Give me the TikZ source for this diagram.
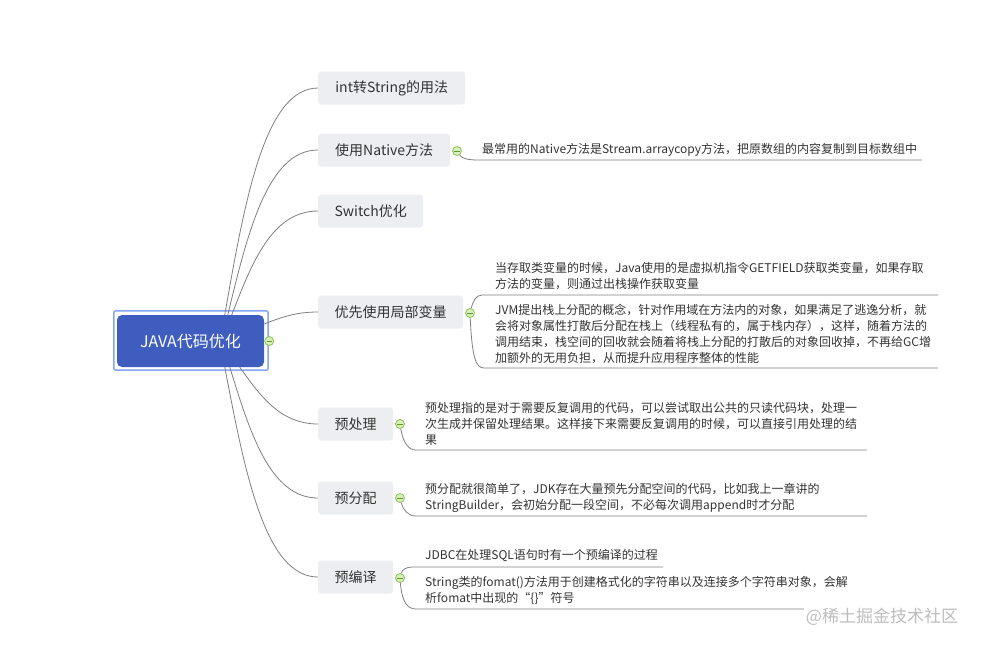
\documentclass[tikz,border=0pt]{standalone}
\usepackage{fontspec}
\setmainfont{Noto Sans CJK SC}
\definecolor{rootblue}{HTML}{3F5DBF}
\definecolor{selblue}{HTML}{86A5F8}
\definecolor{childgray}{HTML}{EDEEF2}
\definecolor{linegray}{HTML}{7F7F7F}
\definecolor{txt}{HTML}{333333}
\definecolor{cfill}{HTML}{D8EEBB}
\definecolor{cdraw}{HTML}{8DC153}
\definecolor{cminus}{HTML}{5A9A28}
\definecolor{wmgray}{HTML}{BDBDBD}
\begin{document}
\begin{tikzpicture}[x=1pt,y=-1pt,
  rootbox/.style={fill=rootblue,rounded corners=5pt,minimum width=147pt,minimum height=52pt,
    text=white,font=\fontsize{16}{18}\selectfont,inner sep=0pt},
  selframe/.style={draw=selblue,line width=1.5pt,rounded corners=2pt},
  childbox/.style={fill=childgray,rounded corners=3pt,minimum height=33pt,inner xsep=15pt,
    inner ysep=0pt,anchor=west,text=txt,font=\fontsize{14}{16}\selectfont},
  subtext/.style={anchor=west,align=left,inner sep=0pt,text=txt,font=\fontsize{12}{16}\selectfont},
  collapse/.style={circle,minimum size=9pt,inner sep=0pt,draw=cdraw,fill=cfill,line width=0.8pt,
    path picture={\draw[cminus,line width=1pt]
      ([xshift=-2.6pt]path picture bounding box.center) -- ([xshift=2.6pt]path picture bounding box.center);}},
  conn/.style={draw=linegray,line width=0.8pt},
  wm/.style={text=wmgray,fill=white,inner sep=2pt,font=\fontsize{17}{19}\selectfont}
]
\useasboundingbox (0,0) rectangle (981,646);

% root
\node[rootbox] (root) at (190.5,341) {JAVA代码优化};
\draw[selframe] ([shift={(-3pt,4pt)}]root.north west) rectangle ([shift={(4pt,-3pt)}]root.south east);

% children
\node[childbox,minimum width=147pt] (c1) at (318,88) {int转String的用法};
\node[childbox,minimum width=132pt] (c2) at (318,150) {使用Native方法};
\node[childbox,minimum width=105pt] (c3) at (318,211) {Switch优化};
\node[childbox,minimum width=145pt] (c4) at (318,312) {优先使用局部变量};
\node[childbox,minimum width=75pt] (c5) at (318,424) {预处理};
\node[childbox,minimum width=75pt] (c6) at (318,498) {预分配};
\node[childbox,minimum width=75pt] (c7) at (318,577) {预编译};

% root to children connectors
\draw[conn] ([xshift=108pt]root.north west) .. controls +(20pt,115pt) and +(-53pt,0pt) .. (c1.west);
\draw[conn] ([xshift=111pt]root.north west) .. controls +(20pt,83pt) and +(-50pt,0pt) .. (c2.west);
\draw[conn] ([xshift=115pt]root.north west) .. controls +(20pt,52pt) and +(-46pt,0pt) .. (c3.west);
\draw[conn] ([yshift=17pt]root.east) .. controls +(20pt,8pt) and +(-20pt,0pt) .. (c4.west);
\draw[conn] ([xshift=123pt]root.south west) .. controls +(20pt,-28pt) and +(-38pt,0pt) .. (c5.west);
\draw[conn] ([xshift=113pt]root.south west) .. controls +(20pt,-65pt) and +(-48pt,0pt) .. (c6.west);
\draw[conn] ([xshift=108pt]root.south west) .. controls +(20pt,-105pt) and +(-53pt,0pt) .. (c7.west);

% collapse markers
\node[collapse] (k0) at ([xshift=5pt]root.east) {};
\node[collapse] (k2) at (457,151) {};
\node[collapse] (k4) at (470,313) {};
\node[collapse] (k5) at (400,424) {};
\node[collapse] (k6) at (400,498) {};
\node[collapse] (k7) at (400,578) {};

% sub texts
\node[subtext] (t2) at (482,150) {最常用的Native方法是Stream.arraycopy方法，把原数组的内容复制到目标数组中};
\node[subtext] (t4a) at (495,276) {当存取类变量的时候，Java使用的是虚拟机指令GETFIELD获取类变量，如果存取\\方法的变量，则通过出栈操作获取变量};
\node[subtext] (t4b) at (495,334) {JVM提出栈上分配的概念，针对作用域在方法内的对象，如果满足了逃逸分析，就\\会将对象属性打散后分配在栈上（线程私有的，属于栈内存），这样，随着方法的\\调用结束，栈空间的回收就会随着将栈上分配的打散后的对象回收掉，不再给GC增\\加额外的无用负担，从而提升应用程序整体的性能};
\node[subtext] (t5) at (425,423.5) {预处理指的是对于需要反复调用的代码，可以尝试取出公共的只读代码块，处理一\\次生成并保留处理结果。这样接下来需要反复调用的时候，可以直接引用处理的结\\果};
\node[subtext] (t6) at (425,498) {预分配就很简单了，JDK存在大量预先分配空间的代码，比如我上一章讲的\\StringBuilder，会初始分配一段空间，不必每次调用append时才分配};
\node[subtext] (t7a) at (425,556) {JDBC在处理SQL语句时有一个预编译的过程};
\node[subtext] (t7b) at (425,590.5) {String类的fomat()方法用于创建格式化的字符串以及连接多个字符串对象，会解\\析fomat中出现的“\{\}”符号};

% underline coordinates
\coordinate (u2a) at (478,160); \coordinate (u2b) at (922,160);
\coordinate (u4a) at (482,295); \coordinate (u4b) at (938,295);
\coordinate (u4c) at (484,368); \coordinate (u4d) at (938,368);
\coordinate (u5a) at (416,450); \coordinate (u5b) at (867,450);
\coordinate (u6a) at (416,516); \coordinate (u6b) at (867,516);
\coordinate (u7a) at (412,567); \coordinate (u7b) at (663,567);
\coordinate (u7c) at (416,609); \coordinate (u7d) at (867,609);

% sub connectors
\draw[conn] (k2) .. controls +(5pt,-8pt) and +(-8pt,0pt) .. (u2a) -- (u2b);
\draw[conn] (k4) .. controls +(3pt,12pt) and +(-6pt,0pt) .. (u4a) -- (u4b);
\draw[conn] (k4) .. controls +(2pt,-45pt) and +(-8pt,0pt) .. (u4c) -- (u4d);
\draw[conn] (k5) .. controls +(3pt,-18pt) and +(-8pt,0pt) .. (u5a) -- (u5b);
\draw[conn] (k6) .. controls +(3pt,-12pt) and +(-8pt,0pt) .. (u6a) -- (u6b);
\draw[conn] (k7) .. controls +(2pt,8pt) and +(-6pt,0pt) .. (u7a) -- (u7b);
\draw[conn] (k7) .. controls +(2pt,-25pt) and +(-8pt,0pt) .. (u7c) -- (u7d);

% watermark
\node[wm] (wm) at (882,617) {@稀土掘金技术社区};
\end{tikzpicture}
\end{document}
